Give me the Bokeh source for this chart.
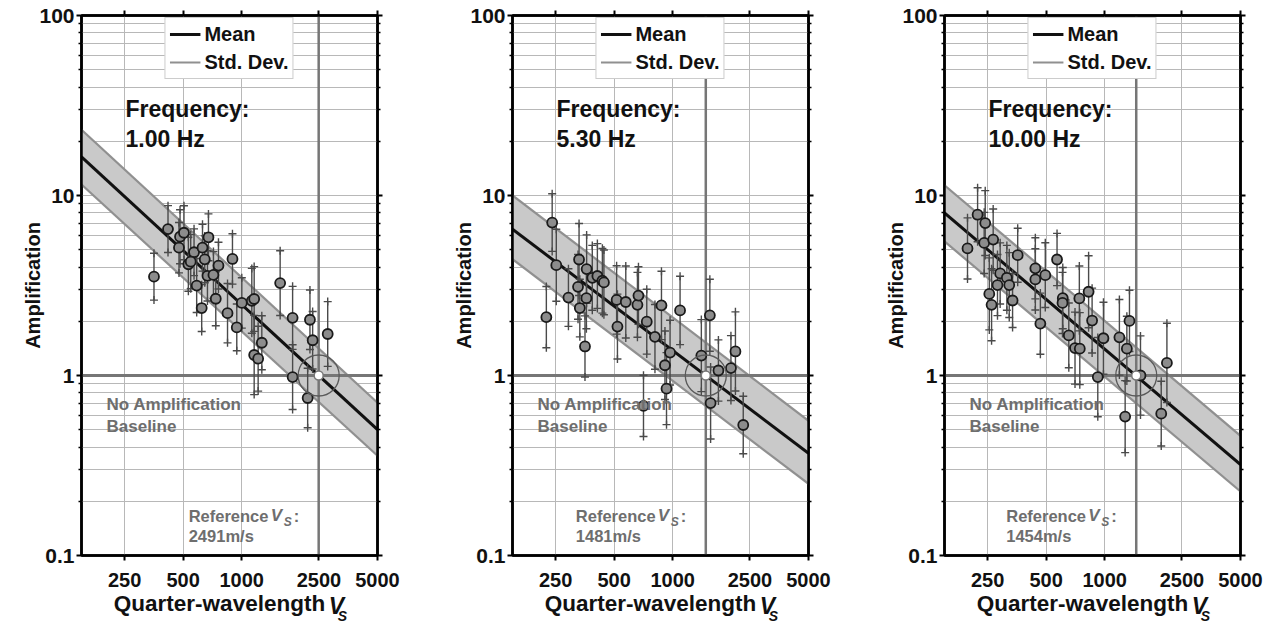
import math
import json
from bokeh.plotting import figure
from bokeh.models import (FixedTicker, LogAxis, CustomJSTickFormatter, Label,
                          Legend, LegendItem)
from bokeh.layouts import row
from bokeh.embed import file_html
from bokeh.resources import INLINE

# ---------------- data ----------------
XMIN, XMAX = 150, 5000
YMIN, YMAX = 0.1, 100
x_ticks = [250, 500, 1000, 2500, 5000]
y_ticks = [0.1, 1, 10, 100]
y_minor = [0.2, 0.3, 0.4, 0.5, 0.6, 0.7, 0.8, 0.9,
           2, 3, 4, 5, 6, 7, 8, 9,
           20, 30, 40, 50, 60, 70, 80, 90]

freq_labels = ["1.00 Hz", "5.30 Hz", "10.00 Hz"]
ref_vs = [2491, 1481, 1454]
ref_labels = ["2491m/s", "1481m/s", "1454m/s"]

line_vs = [150, 5000]
mean_1 = [16.4, 0.50]
upper_1 = [23.2, 0.706]
lower_1 = [11.5, 0.358]
mean_2 = [6.5, 0.37]
upper_2 = [10.0, 0.56]
lower_2 = [4.43, 0.25]
mean_3 = [8.0, 0.32]
upper_3 = [11.4, 0.462]
lower_3 = [5.56, 0.227]

vs_1 = [354, 418, 476, 482, 505, 569, 532, 547, 629, 675, 646, 587, 623, 667,
        716, 760, 736, 846, 897, 944, 1002, 1128, 1160, 1160, 1216, 1270, 1578,
        1829, 1829, 2246, 2319, 2186, 2772]
amp_1 = [3.54, 6.51, 5.13, 5.90, 6.21, 4.84, 4.15, 4.29, 5.13, 5.86, 4.42, 3.16,
         2.37, 3.58, 3.62, 4.08, 2.67, 2.22, 4.44, 1.85, 2.53, 2.60, 2.66, 1.30,
         1.24, 1.52, 3.26, 2.09, 0.98, 2.04, 1.57, 0.75, 1.70]
err_1 = [0.13, 0.13, 0.14, 0.15, 0.15, 0.13, 0.15, 0.15, 0.13, 0.13, 0.13, 0.15,
         0.13, 0.14, 0.13, 0.13, 0.15, 0.165, 0.14, 0.13, 0.14, 0.18, 0.18, 0.22,
         0.18, 0.15, 0.18, 0.175, 0.18, 0.165, 0.16, 0.165, 0.18]

vs_2 = [240, 252, 224, 291, 330, 326, 333, 361, 360, 354, 386, 410, 435, 443,
        515, 520, 574, 659, 667, 736, 876, 811, 970, 913, 930, 708, 1092, 1405,
        1554, 1568, 1720, 1995, 2104, 2308]
amp_2 = [7.07, 4.10, 2.11, 2.71, 4.41, 3.11, 2.37, 3.90, 2.69, 1.45, 3.49, 3.57,
         3.36, 3.29, 2.63, 1.87, 2.56, 2.47, 2.78, 1.99, 2.45, 1.64, 1.34, 1.14,
         0.845, 0.678, 2.30, 1.29, 2.16, 0.703, 1.066, 1.10, 1.36, 0.531]
err_2 = [0.16, 0.2, 0.17, 0.16, 0.2, 0.18, 0.16, 0.19, 0.17, 0.17, 0.18, 0.18,
         0.18, 0.18, 0.19, 0.18, 0.2, 0.18, 0.16, 0.18, 0.19, 0.18, 0.18, 0.19,
         0.2, 0.17, 0.19, 0.2, 0.2, 0.2, 0.17, 0.18, 0.22, 0.16]

vs_3 = [197, 222, 243, 240, 267, 255, 262, 290, 281, 314, 323, 336, 357, 440,
        440, 495, 467, 569, 609, 607, 654, 741, 704, 745, 827, 862, 922, 986,
        1191, 1301, 1342, 1275, 1529, 1955, 2091]
amp_3 = [5.08, 7.82, 7.03, 5.45, 5.69, 2.84, 2.47, 3.69, 3.18, 3.49, 3.18, 2.61,
         4.66, 3.94, 3.42, 3.61, 1.94, 4.41, 2.69, 2.53, 1.67, 2.68, 1.42, 1.41,
         2.92, 2.02, 0.98, 1.61, 1.63, 1.41, 2.01, 0.591, 1.0, 0.614, 1.175]
err_3 = [0.17, 0.15, 0.18, 0.17, 0.17, 0.2, 0.2, 0.17, 0.17, 0.18, 0.18, 0.15,
         0.15, 0.17, 0.17, 0.18, 0.17, 0.145, 0.17, 0.17, 0.18, 0.18, 0.2, 0.2,
         0.2, 0.18, 0.22, 0.2, 0.21, 0.18, 0.17, 0.2, 0.22, 0.18, 0.22]

# ---------------- styling / layout ----------------
FONT = "Liberation Sans"
FRAME_W = 296
FRAME_H = 542
BORDER_TOP = 15
FIG_H = 626
PXD = FRAME_W / math.log10(XMAX / XMIN)   # pixels per decade along x
GRID = "#b8b8b8"
ANN = "#6e6e6e"


def y_at(px):
    """data y for a pixel distance px below the frame top"""
    return 10 ** (2 - 3 * px / FRAME_H)


def x_at(px):
    """data x for a pixel distance px right of the frame left"""
    return XMIN * 10 ** (px / PXD)


def lab(p, x, y, text, dx=0, size="20px", color="#111111", style="bold",
        align="left"):
    p.add_layout(Label(x=x, y=y, x_offset=dx, text=text, text_font=FONT,
                       text_font_size=size, text_font_style=style,
                       text_color=color, text_align=align,
                       text_baseline="middle"))


def text_axis(p, xpos, text, size, style, standoff):
    ax = LogAxis(ticker=FixedTicker(ticks=[xpos], minor_ticks=[]),
                 formatter=CustomJSTickFormatter(code="return %s;" % json.dumps(text)))
    ax.axis_line_color = None
    ax.major_tick_line_color = None
    ax.minor_tick_line_color = None
    ax.major_tick_in = 0
    ax.major_tick_out = 0
    ax.minor_tick_in = 0
    ax.minor_tick_out = 0
    ax.major_label_standoff = standoff
    ax.major_label_text_font = FONT
    ax.major_label_text_font_size = size
    ax.major_label_text_font_style = style
    ax.major_label_text_color = "#111111"
    p.add_layout(ax, "below")


def make_panel(vs, amp, err, mean, upper, lower, ref, freq, reflab,
               width, bl, br):
    p = figure(width=width, height=FIG_H, x_axis_type="log", y_axis_type="log",
               x_range=(XMIN, XMAX), y_range=(YMIN, YMAX),
               output_backend="svg", toolbar_location=None,
               min_border_left=bl, min_border_right=br,
               min_border_top=BORDER_TOP,
               min_border_bottom=FIG_H - BORDER_TOP - FRAME_H)
    p.background_fill_color = "white"
    p.border_fill_color = "white"
    p.outline_line_color = "black"
    p.outline_line_width = 2.5

    xt = FixedTicker(ticks=x_ticks, minor_ticks=[])
    yt = FixedTicker(ticks=y_ticks, minor_ticks=y_minor)
    fmt = CustomJSTickFormatter(code="return tick.toString();")
    blank = CustomJSTickFormatter(code="return '';")

    def style_axis(ax, ticker, f, labels=True, minor=False):
        ax.ticker = ticker
        ax.formatter = f
        ax.axis_line_width = 2.5
        ax.axis_line_color = "black"
        ax.major_tick_line_width = 2
        ax.major_tick_in = 0
        ax.major_tick_out = 5
        ax.minor_tick_line_width = 1.5
        ax.minor_tick_in = 0
        ax.minor_tick_out = 3 if minor else 0
        ax.major_label_text_font = FONT
        ax.major_label_text_font_style = "bold"
        ax.major_label_text_color = "#111111"
        if labels:
            ax.major_label_text_font_size = "20px"
        else:
            ax.major_label_text_font_size = "0px"
            ax.major_label_standoff = 0

    style_axis(p.xaxis[0], xt, fmt)
    p.xaxis[0].major_label_standoff = 12
    style_axis(p.yaxis[0], yt, fmt, minor=True)
    p.yaxis[0].major_label_text_font_size = "21px"
    p.yaxis[0].major_label_standoff = 2
    p.yaxis[0].axis_label = "Amplification"
    p.yaxis[0].axis_label_text_font = FONT
    p.yaxis[0].axis_label_text_font_size = "20px"
    p.yaxis[0].axis_label_text_font_style = "bold"
    p.yaxis[0].axis_label_text_color = "#111111"
    p.yaxis[0].axis_label_standoff = -8

    top = LogAxis()
    style_axis(top, FixedTicker(ticks=x_ticks, minor_ticks=[]), blank, labels=False)
    right = LogAxis()
    style_axis(right, FixedTicker(ticks=y_ticks, minor_ticks=y_minor), blank,
               labels=False, minor=True)
    p.add_layout(top, "above")
    p.add_layout(right, "right")

    # x-axis title built from text pieces: "Quarter-wavelength V_S"
    text_axis(p, x_at(138), "Quarter-wavelength", "22.5px", "bold", 1)
    text_axis(p, x_at(255), "V", "23px", "bold italic", -26)
    text_axis(p, x_at(261), "S", "14px", "bold italic", -14)

    p.xgrid.ticker = FixedTicker(ticks=x_ticks, minor_ticks=[])
    p.ygrid.ticker = FixedTicker(ticks=y_ticks, minor_ticks=y_minor)
    p.xgrid.grid_line_color = GRID
    p.xgrid.grid_line_width = 1
    p.ygrid.grid_line_color = GRID
    p.ygrid.grid_line_width = 1
    p.ygrid.minor_grid_line_color = GRID
    p.ygrid.minor_grid_line_width = 1

    # std band and mean
    p.varea(x=line_vs, y1=lower, y2=upper, fill_color="#c9c9c9", fill_alpha=1)
    std_r = p.line(line_vs, upper, line_color="#909090", line_width=2.2)
    p.line(line_vs, lower, line_color="#909090", line_width=2.2)

    # reference lines
    p.line([XMIN, XMAX], [1, 1], line_color="#767676", line_width=3)
    p.line([ref, ref], [YMIN, YMAX], line_color="#767676", line_width=2.5)

    mean_r = p.line(line_vs, mean, line_color="#111111", line_width=3)

    # error bars
    lo = [a / 10 ** e for a, e in zip(amp, err)]
    hi = [a * 10 ** e for a, e in zip(amp, err)]
    p.segment(x0=vs, y0=lo, x1=vs, y1=hi, line_color="#4a4a4a", line_width=1.4)
    p.scatter(vs, lo, marker="cross", size=8, line_color="#4a4a4a", line_width=1.4)
    p.scatter(vs, hi, marker="cross", size=8, line_color="#4a4a4a", line_width=1.4)
    p.scatter(vs, amp, marker="circle", size=10, fill_color="#8c8c8c",
              line_color="#1a1a1a", line_width=1.8)

    # reference point
    p.scatter([ref], [1], marker="circle", size=41, fill_color=None,
              line_color="#5a5a5a", line_width=1.3)
    p.scatter([ref], [1], marker="circle", size=9, fill_color="white",
              line_color="#777777", line_width=1.5)

    # texts inside the frame
    lab(p, XMIN, y_at(94), "Frequency:", dx=44, size="23px")
    lab(p, XMIN, y_at(123.5), freq, dx=44, size="23px")
    lab(p, XMIN, y_at(390), "No Amplification", dx=25, size="17px", color=ANN)
    lab(p, XMIN, y_at(413), "Baseline", dx=25, size="17px", color=ANN)
    lab(p, ref, y_at(502), "Reference", dx=-130, size="16.5px", color=ANN)
    lab(p, ref, y_at(502), "V", dx=-48, size="17px", color=ANN, style="bold italic")
    lab(p, ref, y_at(508), "S", dx=-35, size="12px", color=ANN, style="bold italic")
    lab(p, ref, y_at(502), ":", dx=-25, size="16.5px", color=ANN)
    lab(p, ref, y_at(522), reflab, dx=-130, size="16.5px", color=ANN)

    legend = Legend(items=[LegendItem(label="Mean", renderers=[mean_r]),
                           LegendItem(label="Std. Dev.", renderers=[std_r])],
                    location="top_center", margin=2, padding=4, spacing=4,
                    glyph_width=31, glyph_height=24, label_height=24,
                    label_standoff=4, label_text_font=FONT,
                    label_text_font_style="bold", label_text_font_size="20px",
                    label_text_color="#111111",
                    border_line_color="#9a9a9a", border_line_width=1,
                    background_fill_color="white", background_fill_alpha=1)
    p.add_layout(legend)
    return p


p1 = make_panel(vs_1, amp_1, err_1, mean_1, upper_1, lower_1, ref_vs[0],
                freq_labels[0], ref_labels[0], 438, 81, 61)
p2 = make_panel(vs_2, amp_2, err_2, mean_2, upper_2, lower_2, ref_vs[1],
                freq_labels[1], ref_labels[1], 432, 74, 62)
p3 = make_panel(vs_3, amp_3, err_3, mean_3, upper_3, lower_3, ref_vs[2],
                freq_labels[2], ref_labels[2], 404, 74, 34)

layout = row(p1, p2, p3)
open("out.html", "w").write(file_html(layout, INLINE))
